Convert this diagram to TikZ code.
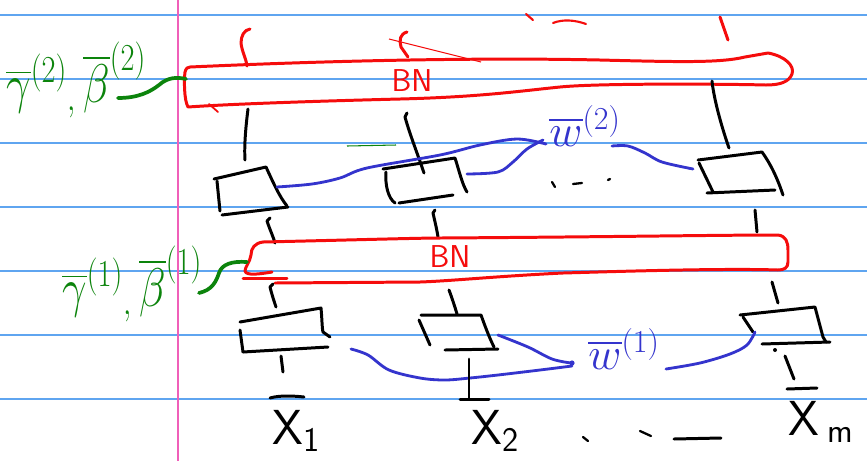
\RequirePackage{fix-cm}
\documentclass[tikz,border=0pt]{standalone}
\usepackage{amsmath}
\usepackage{graphicx}
\definecolor{ruleblue}{RGB}{95,165,240}
\definecolor{marginpink}{RGB}{240,95,185}
\definecolor{inkred}{RGB}{245,12,12}
\definecolor{inkblue}{RGB}{52,52,205}
\definecolor{inkgreen}{RGB}{12,132,12}
\newcommand{\narrowtext}[1]{\scalebox{0.8}[1]{#1}}
\begin{document}
\begin{tikzpicture}[x=0.02cm,y=-0.02cm,
  pen/.style={line width=1.7pt,line cap=round,line join=round},
  ink/.style={pen,black},
  redink/.style={pen,inkred},
  blueink/.style={pen,inkblue,line width=1.6pt},
  greenink/.style={pen,inkgreen,line width=2.1pt},
  rule/.style={ruleblue,line width=0.7pt},
  xlab/.style={inner sep=0pt,font=\sffamily\fontsize{28}{30}\selectfont},
  bnlab/.style={inner sep=0pt,text=inkred,font=\sffamily\fontsize{18}{20}\selectfont},
  wlab/.style={inner sep=0pt,text=inkblue,font=\fontsize{26}{28}\selectfont},
  glab/.style={inner sep=0pt,text=inkgreen,font=\fontsize{31}{33}\selectfont},
]
% paper
\fill[white] (0,0) rectangle (867,461);
\useasboundingbox (0,0) rectangle (867,461);
\foreach \y in {15,79,...,399} \draw[rule] (0,\y) -- (867,\y);
\draw[marginpink,line width=0.8pt] (178,0) -- (178,461);

% ---------- upper BN layer ----------
\draw[redink] (190,67) .. controls (300,62) and (460,57) .. (600,60)
  .. controls (680,62) and (720,63) .. (745,57) -- (768,53)
  .. controls (785,56) and (795,66) .. (792,74)
  .. controls (789,82) and (780,85) .. (766,85)
  .. controls (730,84) and (600,83) .. (560,87)
  .. controls (520,91) and (480,97) .. (400,99)
  .. controls (320,101) and (230,104) .. (188,107)
  .. controls (184,100) and (184,80) .. (185,72)
  .. controls (186,68) and (188,67) .. (190,67);
\draw[redink,line width=1pt] (209,104) -- (218,112);
\node[bnlab] (bn2) at (412,81) {BN};
% stubs leading further up
\draw[redink] (250,29) .. controls (244,30) and (241,36) .. (241,43) .. controls (242,52) and (246,58) .. (247,66);
\draw[redink] (407,32) .. controls (400,34) and (399,40) .. (401,47) -- (408,57);
\draw[inkred,line width=0.6pt] (389,39) -- (481,62);
\draw[redink,line width=1.2pt] (526,14) -- (533,20);
\draw[redink,line width=1.2pt] (553,23) .. controls (563,19) and (575,20) .. (586,24);
\draw[redink] (720,17) -- (728,40);

% gamma/beta of layer 2
\node[glab,anchor=base west] (gb2) at (6,102) {\narrowtext{$\overline{\gamma}^{(2)}{}_{,}\,\overline{\beta}^{(2)}$}};
\draw[greenink] (118,98) .. controls (138,98) and (150,92) .. (159,85)
  .. controls (168,77) and (177,77) .. (186,79);
\draw[inkgreen,line width=0.6pt] (347,146) -- (396,145);

% stubs from BN down to the layer-2 units
\draw[ink] (248,109) .. controls (246,125) and (244,145) .. (245,160);
\draw[ink] (407,113) -- (405,117) .. controls (410,135) and (418,155) .. (424,173);
\draw[ink] (712,81) .. controls (714,100) and (722,128) .. (729,148);

% ---------- layer-2 units ----------
% unit 1
\draw[ink] (214,179) -- (266,167) .. controls (273,182) and (279,196) .. (287,206);
\draw[ink] (217,181) -- (220,211);
\draw[ink] (222,215) -- (288,207);
% unit 2
\draw[ink] (383,169) -- (455,158) .. controls (459,170) and (462,184) .. (467,192);
\draw[ink] (386,172) .. controls (385,185) and (388,198) .. (395,203);
\draw[ink] (399,203) -- (453,195);
% unit m
\draw[ink] (698,160) -- (762,152) .. controls (770,163) and (777,177) .. (783,195);
\draw[ink] (699,163) -- (713,192);
\draw[ink] (707,193) -- (775,190);

\coordinate (u21) at (277,187);
\coordinate (u22) at (467,174);
\coordinate (u2m) at (693,169);
\node[wlab,anchor=base west] (w2) at (549,146) {$\overline{w}^{(2)}$};
\draw[blueink] plot[smooth,tension=0.55] coordinates
  {(u21) (312,184) (340,178) (367,168) (440,155) (480,145) (517,139) (546,144)};
\draw[blueink] plot[smooth,tension=0.55] coordinates
  {(u22) (498,172) (513,162) (527,149) (543,140)};
\draw[blueink] plot[smooth,tension=0.55] coordinates
  {(612,146) (628,146) (645,153) (662,162) (u2m)};
% dots between units
\draw[ink,line width=1.3pt] (552,182) -- (555,187);
\draw[ink,line width=1.3pt] (573,184) -- (582,183);
\draw[ink,line width=1.3pt] (608,180) -- (610,179);

% stubs from the layer-2 units down to the lower BN
\draw[ink] (270,218) -- (267,221) .. controls (270,230) and (273,236) .. (275,243);
\draw[ink] (435,210) -- (433,213) .. controls (435,222) and (437,230) .. (438,237);
\draw[ink] (755,210) -- (757,232);

% ---------- lower BN layer ----------
\draw[redink] (263,242) .. controls (350,240) and (420,238) .. (440,238)
  .. controls (600,237) and (720,235) .. (778,235)
  .. controls (786,236) and (788,242) .. (788,250) -- (788,262)
  .. controls (788,268) and (784,270) .. (778,270)
  .. controls (720,268) and (600,272) .. (563,273)
  .. controls (500,276) and (450,281) .. (420,282) -- (275,283);
\draw[redink] (263,242) .. controls (255,243) and (251,248) .. (251,255)
  .. controls (250,262) and (245,267) .. (245,271)
  .. controls (246,276) and (260,274) .. (272,272);
\draw[redink] (243,278) -- (287,278);
\node[bnlab] (bn1) at (450,257) {BN};

% gamma/beta of layer 1
\node[glab,anchor=base west] (gb1) at (62,306) {\narrowtext{$\overline{\gamma}^{(1)}{}_{,}\,\overline{\beta}^{(1)}$}};
\draw[greenink] (199,293) .. controls (212,290) and (216,282) .. (219,273)
  .. controls (222,264) and (232,261) .. (247,262);

% stubs from the lower BN down to the layer-1 units
\draw[ink] (273,284) -- (270,287) .. controls (272,295) and (274,301) .. (276,307);
\draw[ink] (449,290) .. controls (452,298) and (455,307) .. (457,314);
\draw[ink] (772,282) -- (778,303);

% ---------- layer-1 units ----------
% unit 1
\draw[ink] (240,322) -- (321,308) .. controls (322,318) and (322,328) .. (323,332) -- (330,337);
\draw[ink] (240,330) -- (243,352);
\draw[ink] (243,352) -- (328,347);
% unit 2
\draw[ink] (421,315) -- (481,315) .. controls (485,326) and (489,337) .. (494,347);
\draw[ink] (419,320) -- (430,345);
\draw[ink] (445,350) -- (498,349);
% unit m
\draw[ink] (740,315) -- (815,307) -- (823,337) -- (826,342);
\draw[ink] (743,317) -- (753,332);
\draw[ink] (762,344) -- (830,342);

\coordinate (u11) at (351,349);
\coordinate (u12) at (498,335);
\coordinate (u1m) at (755,332);
\node[wlab,anchor=base west] (w1) at (588,369) {$\overline{w}^{(1)}$};
\draw[blueink] plot[smooth,tension=0.55] coordinates
  {(u11) (368,355) (389,370) (420,378) (445,380) (470,378) (498,375) (540,370) (572,366)};
\draw[blueink] plot[smooth,tension=0.55] coordinates
  {(u12) (528,347) (552,359) (571,363)};
\fill[inkblue] (572,363) circle[radius=2.6];
\draw[blueink] plot[smooth,tension=0.55] coordinates
  {(666,369) (700,363) (730,354) (747,345) (u1m)};

% inputs
\draw[ink] (281,356) -- (283,372);
\draw[ink] (270,398) .. controls (280,395) and (295,396) .. (304,397);
\draw[ink] (469,359) -- (469,399);
\draw[ink] (460,399) -- (489,399);
\fill[black] (775,350) circle[radius=2];
\draw[ink] (785,356) -- (794,379);
\draw[ink] (787,389) -- (817,388);

\node[xlab,anchor=base west] (x1) at (272,444) {X$_{\textsf{1}}$};
\node[xlab,anchor=base west] (x2) at (471,444) {X$_{\textsf{2}}$};
\node[xlab,anchor=base west] (xm) at (788,435) {X\,$_{\textsf{m}}$};
\draw[ink,line width=1.3pt] (583,437) -- (588,441);
\draw[ink,line width=1.3pt] (640,431) -- (651,436);
\draw[ink] (674,439) -- (721,438);
\end{tikzpicture}
\end{document}
